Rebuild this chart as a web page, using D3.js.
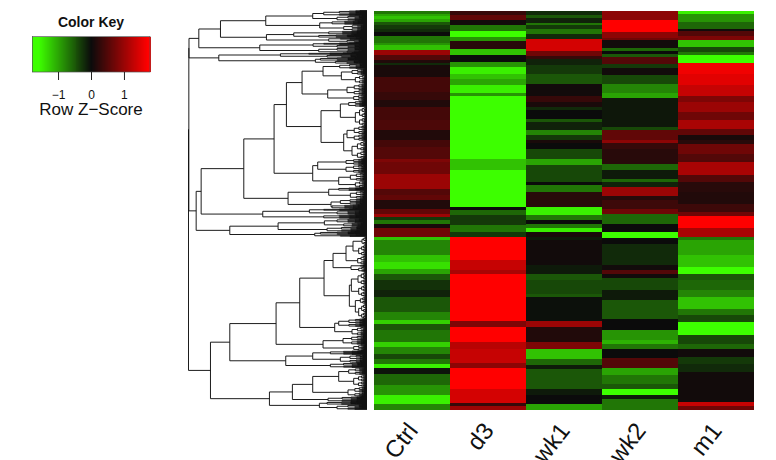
<!DOCTYPE html>
<html><head><meta charset="utf-8">
<script src="https://cdn.jsdelivr.net/npm/d3@7"></script>
<style>html,body{margin:0;background:#fff}svg{display:block}text{font-family:"Liberation Sans",Arial,sans-serif;fill:#111}</style>
</head><body><div id="c"></div>
<script>
const samples = ["Ctrl","d3","wk1","wk2","m1"];
const totalRows = 399;
// each band: [last row of band, row Z-score]
const ctrlBands = [[3,-.7],[5,-1],[8.5,-1.2],[11,-1],[14.5,-.5],[18,-.3],[21,-.2],[25,0],[32,-.7],[34.5,-.9],[39,-1.2],[44.5,1],[49.5,.5],[52,.15],[54.5,-.2],[66,.1],[81,.4],[89.5,.3],[96,.15],[109.5,.4],[119.5,.45],[129.5,.15],[136,.4],[148,.5],[151,.8],[163,.7],[178,1],[184.5,.5],[189.5,.6],[198,.15],[203,.6],[206,1],[209.5,-.3],[213,-.7],[217,.1],[226,.7],[229.5,-1.2],[244.5,-.8],[251,-1.2],[258,-1.4],[263,-1],[269.5,-.5],[279.5,-.25],[286,-.15],[301,-.5],[309.5,-.8],[313,-1.3],[319.5,-.5],[331,-.7],[336,-1.3],[343,-.8],[348,-.4],[353,-.7],[357,-1.5],[363,-.05],[374.5,-.6],[384,-.9],[393,-1.5],[399,-.8]];
const d3Bands = [[4,.3],[9.5,.6],[14.5,.05],[20.5,-.7],[26,-1.6],[30.5,-.9],[38,.2],[44.5,-1.2],[51,0],[56,-.9],[63,-1.5],[68,-1.2],[74.5,-1],[82,-1.5],[85,-.9],[148,-1.9],[159.5,-1.2],[196,-1.8],[199.5,0],[204.5,-.6],[214.5,-.3],[221,-.7],[226,-.3],[249.5,1.9],[259.5,1.3],[263,1.1],[310.5,1.9],[316,.8],[331,1.7],[338.5,1.2],[352,1.3],[357,.9],[378,1.9],[392,1.4],[395,.3],[399,1]];
const wk1Bands = [[4,-.2],[7,-.5],[12,-.15],[14.5,-.7],[18.5,-.3],[23,-.7],[28,-.2],[40,1.4],[45,.7],[48,.3],[54.5,-.15],[63,-.3],[73,-.5],[85,.05],[91,.3],[96,.1],[99.5,-.2],[108,0],[111,-.5],[119.5,-.15],[124.5,-.8],[129.5,-.3],[132,.1],[138,0],[148,-.4],[154.5,-1],[171,-.4],[174.5,0],[181,-.7],[196,.2],[204.5,-1.5],[209,-.7],[213,0],[217,-.7],[221,-1.5],[226,.1],[229.5,-.1],[254.5,.05],[263,-.1],[269.5,-.5],[283,-.4],[286,-.5],[310.5,-.03],[316,1],[331,.15],[338.5,.8],[348,-1.2],[354,-.6],[358,-.1],[378,-.5],[384.5,-.1],[393,0],[399,-1]];
const wk2Bands = [[9.5,.9],[21,1.9],[27,.9],[29.5,.7],[37,.05],[40,-.6],[43,0],[46,-.5],[53,.5],[57,-.3],[64,.05],[73,-.4],[82,-.8],[87,-1],[116,-.08],[119.5,-.4],[129.5,.6],[132,.9],[138,.3],[153,.2],[159,-.6],[168,-.1],[171,-.6],[176,-.15],[185.5,1],[189.5,.2],[198,.35],[203.5,.7],[213,-.6],[221,0],[227,-1.6],[233,0],[254.5,-.2],[259.5,.05],[263,.5],[267,.05],[279.5,-.4],[289.5,-.1],[308,-.5],[319.5,0],[329.5,-.9],[333,-1.1],[338.5,-.7],[347,0],[357,.5],[364.5,-1],[373,-.7],[378.5,-.5],[384,-1.6],[388.5,-.1],[399,-.7]];
const m1Bands = [[3,-1.5],[11,-.9],[18,-.6],[20.5,.05],[25,.5],[29.5,.8],[36,-1.2],[41,-.4],[44.5,-.7],[52,-1.8],[63,1.6],[74.5,1.5],[85,1.3],[91,.8],[101,1],[109.5,.7],[118.5,1.1],[124.5,.6],[129.5,.1],[133,.2],[143,.7],[151,.5],[164.5,1.1],[171,.5],[181,.2],[193,.15],[201,.35],[205.5,.7],[217,1.9],[226,1.1],[229.5,-.7],[244.5,-1],[256,-1.2],[263,-1.7],[269.5,-.5],[279.5,-.6],[286,-.8],[298,-1.2],[304.5,-.7],[311,-.4],[324,-1.6],[333,-.4],[338,-.6],[346,.05],[353,-.3],[361,-.2],[391,.05],[395,1.3],[399,.7]];
const columnBands = [ctrlBands,d3Bands,wk1Bands,wk2Bands,m1Bands];
const keyTicks = [-1,0,1];
// dendrogram: [merge position, upper, lower]; a terminal is [merge position, rows]
const treeTop = [120,
  [256,[397,[430,5],[470,5]],[418,[455,4],[490,6]]],
  [258,[340,[445,4],[415,3]],[445,[480,2],[500,3]]]];
const treeSecond = [238,[398,[430,2],[470,3]],[415,[470,3],[500,2]]];
const treeThird = [115,[300,[385,2],[440,3]],[405,[420,3],[465,3]]];
const treeP1 = [318,
  [365,[428,[478,5],[483,[515,6],[525,9]]],[442,[500,11],[520,6]]],
  [422,[480,[505,6],[525,19]],[490,[500,15],[515,18]]]];
const treeP2 = [397,[412,[497,6],[497,8]],[475,[510,8],[525,7]]];
const treeQ = [323,[445,[475,3],[510,8]],[452,[480,6],[455,4]]];
const treeM1b = [247,[387,[430,2],[470,4]],[430,4]];
const treeM2 = [148,[293,[432,[470,4],[490,4]],[440,5]],[403,[420,3],[480,2]]];
const treeMid = [47,[62,[190,[281,treeP1,treeP2],treeQ],treeM1b],treeM2];
const treeLc = [287,
  [358,
    [431,
      [458,[497,[518,[545,8],[535,11]],[532,9]],[512,[540,2],[535,5]]],
      [507,[513,[533,13],[535,12]],[525,[540,7],[535,15]]]],
    [463,[475,8],[515,9]]],
  [428,[488,9],[520,6]]];
const treeLd = [316,[397,[450,4],[480,8]],[450,5]];
const treeLb = [267,
  [336,[397,[475,[505,7],[520,12]],[503,10]],[443,5]],
  [417,[440,3],[470,5]]];
const treeLower = [90,[148,treeLc,treeLd],treeLb];
const treeRoot = [24,[25,[25.5,[55,treeTop,treeSecond],treeThird],treeMid],treeLower];

const W=776,H=460;
const svg=d3.select("#c").append("svg").attr("width",W).attr("height",H);
const green="#3dff00",dark="#0b0b0b",red="#ff0000";
const color=d3.scaleLinear().domain([-1.6,0,1.7]).range([green,dark,red]).clamp(true);

// heat map
const x=d3.scaleBand().domain(samples).range([374,754]);
const y=d3.scaleLinear().domain([0,totalRows]).range([10.5,409.5]);
const heat=svg.append("g").attr("shape-rendering","crispEdges");
samples.forEach((s,i)=>{
  let prev=0;
  const segs=columnBands[i].map(([end,z])=>{const o={start:prev,end,z};prev=end;return o;});
  heat.append("g").selectAll("rect").data(segs).join("rect")
    .attr("x",x(s)).attr("width",x.bandwidth())
    .attr("y",d=>y(d.start)).attr("height",d=>y(d.end)-y(d.start)+.5)
    .attr("fill",d=>color(d.z));
});
// column labels
const ax=svg.append("g").attr("transform","translate(0,413)")
  .call(d3.axisBottom(x).tickSize(0).tickPadding(0));
ax.select(".domain").remove();
ax.selectAll("text").attr("text-anchor","end").attr("font-size",24).attr("dy",0)
  .attr("transform","translate(7,18) rotate(-52)");

// dendrogram
const px=d3.scaleLinear().domain([24,560]).range([188.5,367]);
const leavesPerRow=3;
let cursor=0;
const hLines=[],vLines=[];
const rowY=r=>y(r);
function leaf(){const r=cursor;cursor+=1/leavesPerRow;return {pos:560,yy:rowY(r+.5/leavesPerRow)};}
function fan(h,n){
  if(n<=1) return leaf();
  const k=Math.min(n-1,Math.ceil(n*.55)), next=h+(560-h)*.36;
  return join(h,fan(next,k),fan(next,n-k));
}
function join(h,a,b){
  hLines.push([h,a.pos,a.yy],[h,b.pos,b.yy]);
  vLines.push([h,a.yy,b.yy]);
  return {pos:h,yy:(a.yy+b.yy)/2};
}
function walk(n){
  if(n.length===2) return fan(n[0],n[1]*leavesPerRow);
  const a=walk(n[1]),b=walk(n[2]);
  return join(n[0],a,b);
}
walk(treeRoot);
const path=d3.path();
hLines.forEach(([a,b,yy])=>{path.moveTo(px(a),yy);path.lineTo(px(b),yy);});
vLines.forEach(([h,a,b])=>{path.moveTo(px(h),a);path.lineTo(px(h),b);});
svg.append("path").attr("d",path.toString()).attr("fill","none").attr("stroke","#111").attr("stroke-width",.95);

// colour key
const keyX=d3.scaleLinear().domain([-1.79,1.79]).range([32,150]);
const keySteps=d3.range(-1.79,1.79,.03);
svg.append("g").attr("shape-rendering","crispEdges").selectAll("rect").data(keySteps).join("rect")
  .attr("x",d=>keyX(d)).attr("y",37).attr("height",35)
  .attr("width",keyX(.03)-keyX(0)+.5).attr("fill",d=>color(d));
svg.append("rect").attr("x",32.5).attr("y",36.5).attr("width",117.5).attr("height",35.5)
  .attr("fill","none").attr("stroke","#555").attr("stroke-width",.7);
const keyAxis=svg.append("g").attr("transform","translate(0,72)")
  .call(d3.axisBottom(keyX).tickValues(keyTicks).tickSize(8).tickPadding(10).tickFormat(d=>d<0?"\u2212"+(-d):d));
keyAxis.select(".domain").remove();
keyAxis.selectAll("line").attr("stroke","#222");
keyAxis.selectAll("text").attr("font-size",12).attr("font-family","Liberation Sans");
svg.append("text").attr("x",91).attr("y",27).attr("text-anchor","middle").attr("font-weight","bold").attr("font-size",14).text("Color Key");
svg.append("text").attr("x",91).attr("y",115).attr("text-anchor","middle").attr("font-size",17).text("Row Z\u2212Score");
</script></body></html>
